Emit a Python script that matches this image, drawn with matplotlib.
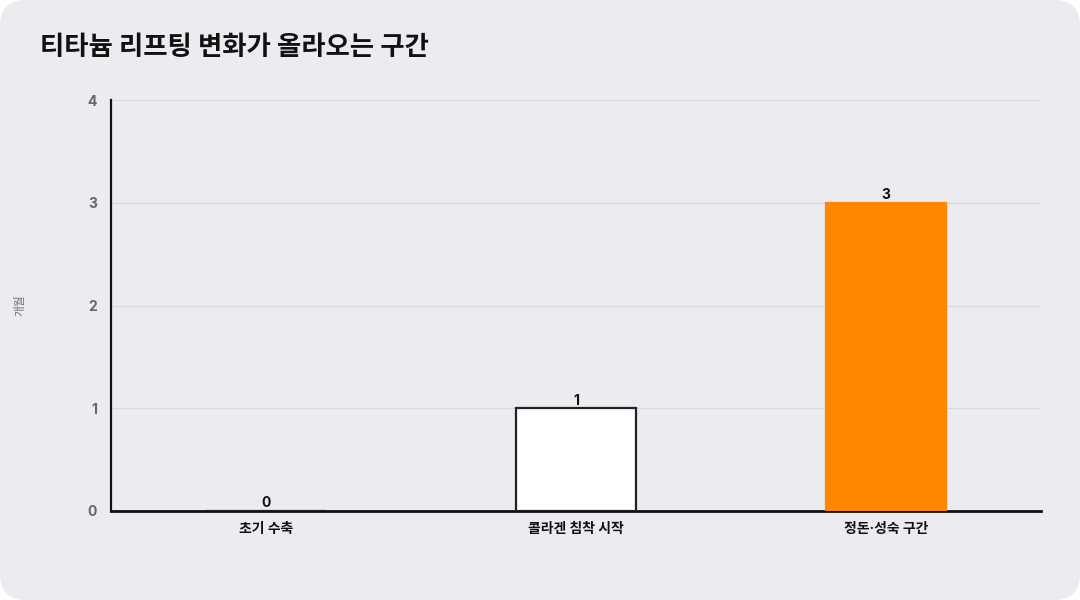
import matplotlib
matplotlib.use("Agg")
import matplotlib.pyplot as plt
from matplotlib.patches import FancyBboxPatch

plt.rcParams['font.family'] = ['Inter', 'Noto Sans CJK KR', 'DejaVu Sans']

categories = ["초기 수축", "콜라겐 침착 시작", "정돈·성숙 구간"]
values = [0, 1, 3]
face_colors = ["#FFFFFF", "#FFFFFF", "#FF8800"]
edge_colors = ["#222222", "#222222", "#FF8800"]
y_ticks = [0, 1, 2, 3, 4]
title = "티타늄 리프팅 변화가 올라오는 구간"
y_label = "개월"

BG = "#ECEBF0"
fig = plt.figure(figsize=(10.8, 6.0), dpi=100)
fig.patch.set_facecolor("white")
card = FancyBboxPatch((0.0, 0.0), 1.0, 1.0, boxstyle="round,pad=0,rounding_size=0.024",
                      transform=fig.transFigure, facecolor=BG, edgecolor="none",
                      mutation_aspect=1.8, zorder=-5)
fig.patches.append(card)

ax = fig.add_axes([111/1080, 1 - 511/600, (1041-111)/1080, (511-100)/600])
ax.set_zorder(1)
ax.patch.set_alpha(0)

x = list(range(len(categories)))
bars = ax.bar(x, values, width=0.39, color=face_colors, edgecolor=edge_colors,
              linewidth=1.6, zorder=3)
for xi, v in zip(x, values):
    ax.text(xi, v + 0.005, str(v), ha="center", va="bottom", fontsize=10,
            fontweight="bold", color="#111111", zorder=4)

ax.set_xlim(-0.5, 2.5)
ax.set_ylim(0, 4)
ax.set_yticks(y_ticks)
ax.set_yticklabels([str(t) for t in y_ticks], fontsize=10, color="#666666", fontweight="bold")
ax.set_xticks(x)
ax.set_xticklabels(categories, fontsize=10, fontweight="bold", color="#111111")
ax.tick_params(axis="both", length=0)
ax.tick_params(axis="y", pad=10)
ax.tick_params(axis="x", pad=8)
ax.grid(axis="y", color="#D8D8DE", linewidth=0.9, zorder=0)
ax.set_axisbelow(True)
for s in ["top", "right"]:
    ax.spines[s].set_visible(False)
ax.spines["left"].set_color("#111111")
ax.spines["left"].set_linewidth(1.6)
ax.spines["bottom"].set_color("#111111")
ax.spines["bottom"].set_linewidth(2.0)

fig.text(20/1080, 1 - 305/600, y_label, rotation=90, ha="center", va="center",
         fontsize=8.5, color="#777777")
fig.text(40/1080, 1 - 48/600, title, ha="left", va="center", fontsize=19,
         fontweight="bold", color="#111111")

fig.savefig("out.png", dpi=100, facecolor=fig.get_facecolor())
